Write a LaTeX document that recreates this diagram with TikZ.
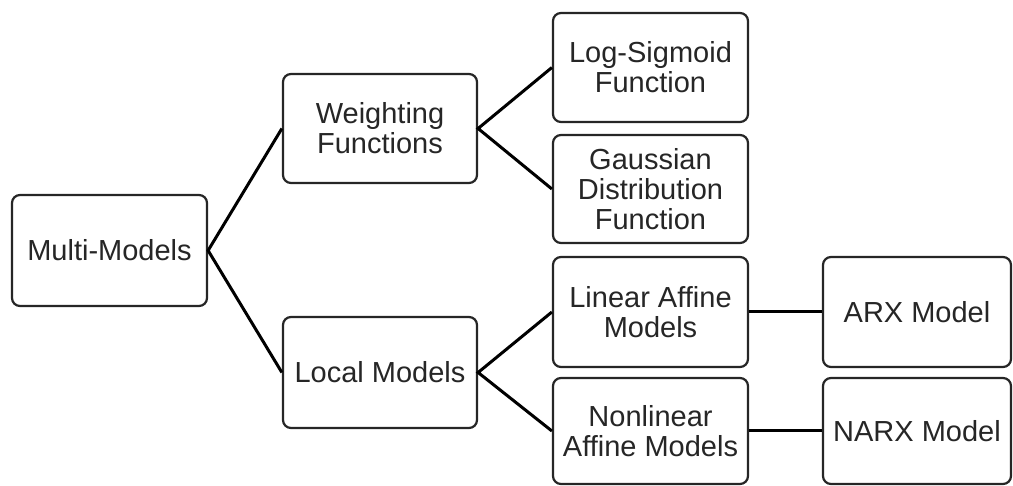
\documentclass[tikz,border=0pt]{standalone}
\usepackage{fontspec}
\setmainfont{Liberation Sans}
\begin{document}
\begin{tikzpicture}[x=1pt,y=-1pt,
  box/.style={draw=black!85, line width=2.2pt, rounded corners=8pt, fill=white,
    align=center, inner sep=0pt, text=black!85,
    font=\fontsize{29}{30}\selectfont},
  link/.style={draw=black, line width=3pt}]
\useasboundingbox (0,0) rectangle (1013,486);

% tree nodes
\node[box, minimum width=195pt, minimum height=111pt] (mm) at (109.5,250.5) {Multi-Models};
\node[box, minimum width=194pt, minimum height=109pt] (wf) at (380,128.5) {Weighting\\Functions};
\node[box, minimum width=194pt, minimum height=111pt] (lm) at (380,372.5) {Local Models};
\node[box, minimum width=195pt, minimum height=109pt] (ls) at (650.5,67.5) {Log-Sigmoid\\Function};
\node[box, minimum width=195pt, minimum height=108pt] (gd) at (650.5,189) {Gaussian\\Distribution\\Function};
\node[box, minimum width=195pt, minimum height=110pt] (la) at (650.5,312) {Linear Affine\\Models};
\node[box, minimum width=195pt, minimum height=106pt] (na) at (650.5,431) {Nonlinear\\Affine Models};
\node[box, minimum width=188pt, minimum height=110pt] (arx) at (917,312) {ARX Model};
\node[box, minimum width=188pt, minimum height=106pt] (narx) at (917,431) {NARX Model};

% branches
\draw[link] (wf.west) -- (mm.east) -- (lm.west);
\draw[link] (ls.west) -- (wf.east) -- (gd.west);
\draw[link] (la.west) -- (lm.east) -- (na.west);
\draw[link] (la.east) -- (arx.west);
\draw[link] (na.east) -- (narx.west);
\end{tikzpicture}
\end{document}
